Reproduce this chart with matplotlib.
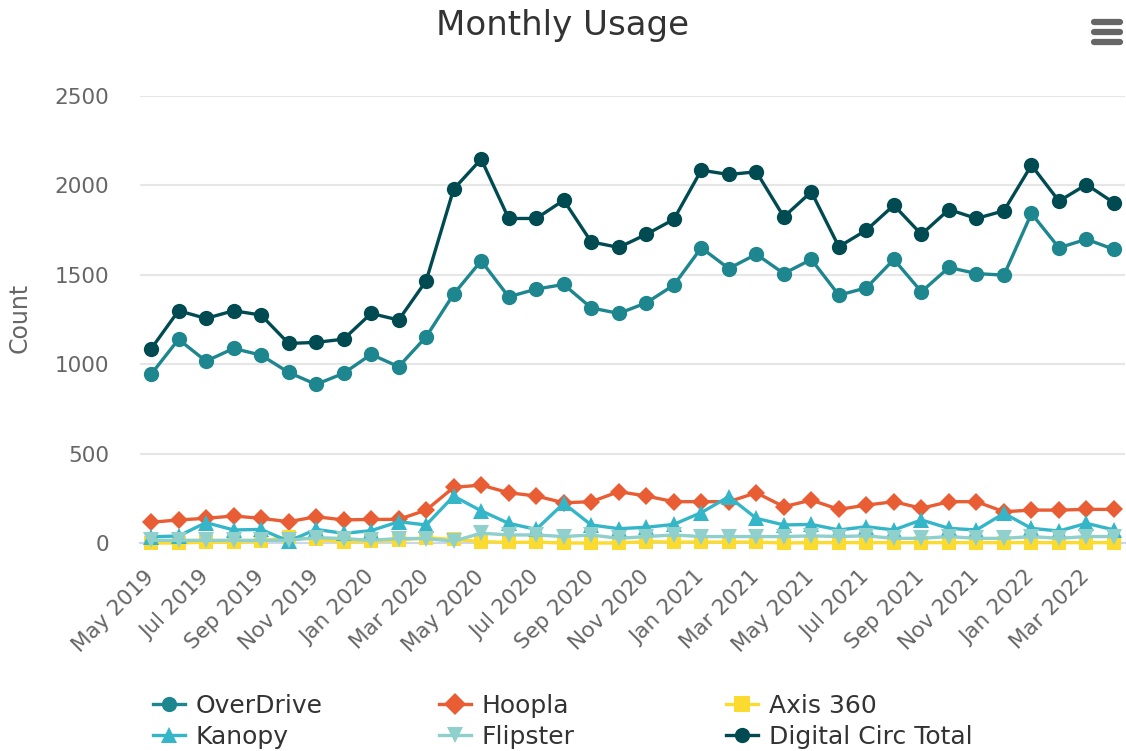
import matplotlib
matplotlib.use('Agg')
import matplotlib.pyplot as plt
from matplotlib.lines import Line2D

# months on the x axis (May 2019 - Apr 2022)
months = ["May 2019", "Jun 2019", "Jul 2019", "Aug 2019", "Sep 2019", "Oct 2019",
          "Nov 2019", "Dec 2019", "Jan 2020", "Feb 2020", "Mar 2020", "Apr 2020",
          "May 2020", "Jun 2020", "Jul 2020", "Aug 2020", "Sep 2020", "Oct 2020",
          "Nov 2020", "Dec 2020", "Jan 2021", "Feb 2021", "Mar 2021", "Apr 2021",
          "May 2021", "Jun 2021", "Jul 2021", "Aug 2021", "Sep 2021", "Oct 2021",
          "Nov 2021", "Dec 2021", "Jan 2022", "Feb 2022", "Mar 2022", "Apr 2022"]

overdrive = [943, 1139, 1017, 1088, 1051, 954, 887, 949, 1055, 986, 1153, 1392,
             1578, 1377, 1420, 1446, 1315, 1284, 1343, 1442, 1651, 1535, 1615, 1507,
             1586, 1386, 1427, 1586, 1405, 1541, 1507, 1498, 1843, 1651, 1699, 1642]
hoopla = [116, 129, 138, 151, 138, 119, 147, 129, 132, 132, 184, 311,
          324, 281, 263, 225, 231, 287, 263, 231, 231, 231, 281, 203,
          240, 188, 212, 231, 194, 231, 231, 175, 184, 184, 188, 188]
axis360 = [0, 0, 5, 5, 10, 35, 20, 5, 10, 15, 30, 20,
           8, 3, 5, 0, 0, 0, 8, 5, 5, 5, 5, 0,
           2, 2, 2, 2, 2, 2, 2, 2, 2, 2, 2, 2]
kanopy = [35, 39, 114, 73, 76, 10, 76, 54, 69, 119, 101, 262,
          180, 110, 76, 222, 101, 80, 88, 104, 170, 259, 138, 101,
          104, 73, 91, 73, 129, 82, 73, 166, 82, 67, 110, 73]
flipster = [15, 15, 15, 15, 15, 15, 30, 25, 15, 25, 25, 10,
            55, 45, 45, 36, 45, 26, 36, 45, 36, 36, 36, 36,
            40, 36, 40, 26, 26, 36, 26, 26, 36, 26, 36, 36]
total = [1085, 1299, 1256, 1299, 1275, 1116, 1122, 1140, 1284, 1247, 1466, 1979,
         2147, 1815, 1815, 1917, 1684, 1653, 1726, 1810, 2085, 2061, 2076, 1824,
         1964, 1657, 1750, 1889, 1726, 1865, 1815, 1858, 2113, 1912, 2005, 1902]

plt.rcParams['font.family'] = ['DejaVu Sans']

fig = plt.figure(figsize=(11.26, 7.51), dpi=100)
ax = fig.add_axes([140 / 1126, (751 - 543) / 751, 985 / 1126, 447 / 751])

x = list(range(len(months)))

series = [
    ("OverDrive", overdrive, '#1d868e', 'o', 11),
    ("Hoopla", hoopla, '#e85d33', 'D', 9.5),
    ("Axis 360", axis360, '#fbdb30', 's', 10),
    ("Kanopy", kanopy, '#35b6c8', '^', 11.5),
    ("Flipster", flipster, '#8fcfcc', 'v', 11.5),
    ("Digital Circ Total", total, '#004b51', 'o', 11),
]

handles = []
for name, vals, col, mk, ms in series:
    ln, = ax.plot(x, vals, color=col, lw=2.4, marker=mk, markersize=ms,
                  markeredgewidth=0, label=name, clip_on=False, zorder=3)
    handles.append(ln)

ax.set_xlim(-0.4, 35.4)
ax.set_ylim(0, 2500)
ax.set_yticks(range(0, 2501, 500))
ax.grid(axis='y', color='#e6e6e6', lw=1.5)
ax.set_axisbelow(True)
for s in ['top', 'right', 'left']:
    ax.spines[s].set_visible(False)
ax.spines['bottom'].set_color('#ccd6eb')
ax.spines['bottom'].set_linewidth(1.5)
ax.tick_params(axis='y', length=0, pad=22, labelsize=15.5, labelcolor='#666666')
ax.tick_params(axis='x', length=0, pad=22, labelsize=15.5, labelcolor='#666666')

ax.set_xticks(x[::2])
ax.set_xticklabels(months[::2], rotation=45, ha='right', va='center',
                   rotation_mode='anchor')

fig.text(0.5, 1 - 25 / 751, "Monthly Usage", ha='center', va='center',
         fontsize=24.5, color='#333333')
fig.text(20 / 1126, 1 - 318 / 751, "Count", ha='center', va='center',
         rotation=90, fontsize=17, color='#666666')

# menu icon at top right
for yy in [22, 32, 42]:
    fig.add_artist(Line2D([1094 / 1126, 1120 / 1126], [1 - yy / 751] * 2,
                          transform=fig.transFigure, color='#666666', lw=4.5,
                          solid_capstyle='round'))

# legend laid out in three columns of two rows
cols = [(153, [0, 3]), (439, [1, 4]), (726, [2, 5])]
for xpos, idx in cols:
    leg = fig.legend([handles[i] for i in idx], [series[i][0] for i in idx],
                     loc='upper left', bbox_to_anchor=(xpos / 1126, 1 - 694 / 751),
                     frameon=False, fontsize=18, handlelength=1.28,
                     handletextpad=0.44, borderpad=0, borderaxespad=0,
                     labelspacing=0.28, labelcolor='#333333')
    for h in leg.legend_handles:
        h.set_markersize(11)

fig.savefig('out.png', dpi=100)
